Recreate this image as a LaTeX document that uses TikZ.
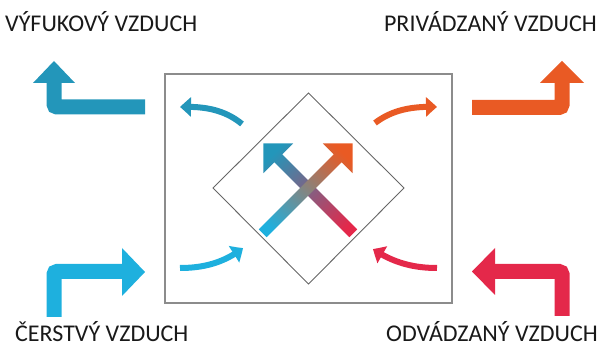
\documentclass[tikz,border=0pt]{standalone}
\usepackage{fontspec}
\setmainfont{Carlito}
\usetikzlibrary{arrows.meta,bending}
\definecolor{tealc}{RGB}{35,150,186}
\definecolor{bluec}{RGB}{30,176,222}
\definecolor{orangec}{RGB}{233,90,36}
\definecolor{redc}{RGB}{228,40,74}
\definecolor{framec}{RGB}{140,140,140}
\definecolor{txtc}{RGB}{25,25,25}
\pgfdeclareverticalshading{gradexhaust}{100bp}{color(0bp)=(redc); color(22bp)=(redc); color(78bp)=(tealc); color(100bp)=(tealc)}
\pgfdeclareverticalshading{gradsupply}{100bp}{color(0bp)=(bluec); color(22bp)=(bluec); color(78bp)=(orangec); color(100bp)=(orangec)}
\begin{document}
\begin{tikzpicture}[x=1pt,y=-1pt,
  lbl/.style={font=\fontsize{24}{28}\selectfont, text=txtc, inner sep=0pt, text depth=0pt},
  bigbar/.style={line width=15pt, rounded corners=3pt},
  curv/.style={line width=6pt, -{Triangle[width=19pt,length=11pt,bend]}},
  frame/.style={draw=framec, line width=1.2pt},
  dia/.style={draw=black!60, line width=0.9pt}]
\useasboundingbox (0,0) rectangle (606,347);
% frame and diamond
\draw[frame] (165,74) rectangle (452,303);
\draw[dia] (308.5,93) -- (404,188) -- (308.5,284) -- (213,188) -- cycle;
% labels
\node[lbl, anchor=base west] (exh) at (5,32) {VÝFUKOVÝ VZDUCH};
\node[lbl, anchor=base east] (sup) at (597,32) {PRIVÁDZANÝ VZDUCH};
\node[lbl, anchor=base west] (fre) at (15,342) {ČERSTVÝ VZDUCH};
\node[lbl, anchor=base east] (ext) at (598,342) {ODVÁDZANÝ VZDUCH};
% corner arrows
\draw[bigbar, tealc] (145,107) -- (54,107) -- (54,82);
\fill[tealc] (33,83) -- (75,83) -- (54,61) -- cycle;
\draw[bigbar, orangec] (472,107.5) -- (562,107.5) -- (562,82);
\fill[orangec] (540,83) -- (584,83) -- (562,61) -- cycle;
\draw[bigbar, bluec] (54,317) -- (54,271.5) -- (123,271.5);
\fill[bluec] (122,248) -- (122,296) -- (145,272) -- cycle;
\draw[bigbar, redc] (562,316) -- (562,271.5) -- (494,271.5);
\fill[redc] (495,248) -- (495,295) -- (472,271.5) -- cycle;
% curved inner arrows
\draw[curv, tealc] (242,124) .. controls (225,110) and (205,106) .. (180,107);
\draw[curv, orangec] (375,123) .. controls (392,110) and (412,106) .. (437,107);
\draw[curv, bluec] (180,268) .. controls (205,268) and (225,262) .. (243,248);
\draw[curv, redc] (437,268) .. controls (412,268) and (392,262) .. (373,249);
% central cross
\shade[shading=gradexhaust, shading angle=45]
  (357.14,229.37) -- (282.19,154.41) -- (293.15,143.45) -- (263.45,143.45)
  -- (263.45,173.15) -- (274.41,162.19) -- (349.37,237.14) -- cycle;
\shade[shading=gradsupply, shading angle=-45]
  (258.86,229.37) -- (333.81,154.41) -- (322.85,143.45) -- (352.55,143.45)
  -- (352.55,173.15) -- (341.59,162.19) -- (266.63,237.14) -- cycle;
\end{tikzpicture}
\end{document}
